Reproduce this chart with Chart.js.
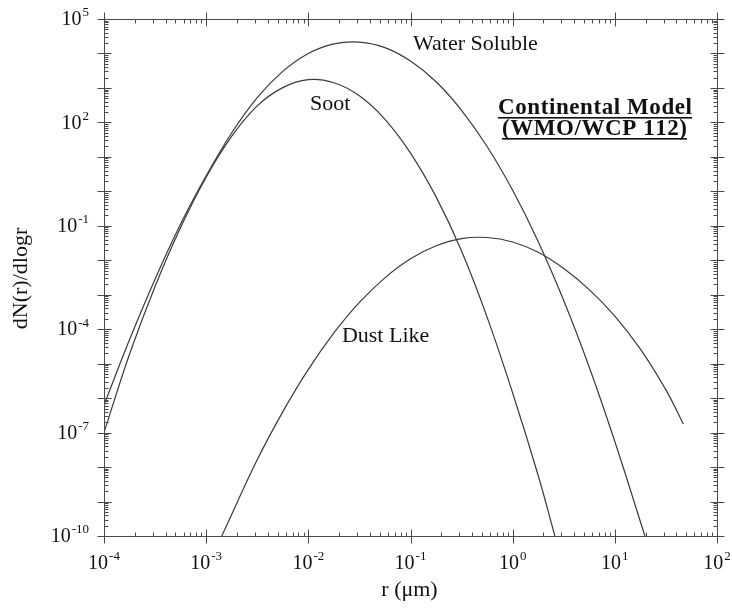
<!DOCTYPE html>
<html>
<head>
<meta charset="utf-8">
<script src="https://cdn.jsdelivr.net/npm/chart.js@4/dist/chart.umd.min.js"></script>
<style>
html,body{margin:0;padding:0;background:#fff;}
#wrap{width:732px;height:608px;position:relative;}
</style>
</head>
<body>
<div id="wrap"><canvas id="c" width="732" height="608"></canvas></div>
<script>
// ---------- DATA ----------
const waterSolubleR = [1.0e-4, 1.78e-4, 3.16e-4, 5.62e-4, 1.0e-3, 1.78e-3, 3.16e-3, 5.62e-3, 1.0e-2, 1.78e-2, 3.16e-2, 5.62e-2, 0.100, 0.178, 0.316, 0.562, 1.00, 1.78, 3.16, 5.62, 10.0, 19.7];
const waterSolubleN = [6.3e-7, 5.0e-5, 2.82e-3, 0.112, 2.82, 50.1, 525, 3020, 1.0e4, 1.9e4, 2.14e4, 1.48e4, 6030, 1510, 224, 20.0, 1.07, 3.47e-2, 6.8e-4, 7.9e-6, 5.5e-8, 1.0e-10];

const sootR = [1.0e-4, 1.78e-4, 3.16e-4, 5.62e-4, 1.0e-3, 1.78e-3, 3.16e-3, 5.62e-3, 1.0e-2, 1.78e-2, 3.16e-2, 5.62e-2, 0.100, 0.178, 0.316, 0.562, 1.00, 1.78, 2.59];
const sootN = [1.0e-7, 1.91e-5, 1.74e-3, 8.9e-2, 2.57, 39.8, 302, 1020, 1740, 1410, 589, 123, 12.9, 0.69, 1.86e-2, 2.24e-4, 1.41e-6, 5.6e-9, 1.0e-10];

const dustLikeR = [1.42e-3, 3.16e-3, 5.62e-3, 1.0e-2, 1.78e-2, 3.16e-2, 5.62e-2, 0.100, 0.178, 0.316, 0.562, 1.00, 1.78, 3.16, 5.62, 10.0, 17.8, 31.6, 46.8];
const dustLikeN = [1.0e-10, 1.62e-8, 4.0e-7, 6.8e-6, 7.8e-5, 6.0e-4, 3.09e-3, 1.10e-2, 2.63e-2, 4.27e-2, 4.57e-2, 3.39e-2, 1.70e-2, 5.75e-3, 1.41e-3, 2.40e-4, 2.63e-5, 1.74e-6, 1.78e-7];

const seriesNames = ["Water Soluble", "Soot", "Dust Like"];

const xTickValues = [1e-4, 1e-3, 1e-2, 1e-1, 1e0, 1e1, 1e2];
const xTickExponents = ["-4", "-3", "-2", "-1", "0", "1", "2"];
const yTickValues = [1e5, 1e2, 1e-1, 1e-4, 1e-7, 1e-10];
const yTickExponents = ["5", "2", "-1", "-4", "-7", "-10"];

const xAxisTitle = "r (\u03BCm)";
const yAxisTitle = "dN(r)/dlogr";
const modelTitle = ["Continental Model", "(WMO/WCP 112)"];

// ---------- STYLE / LAYOUT ----------
const SERIF = '"Liberation Serif", "Times New Roman", "DejaVu Serif", serif';
const LINE_COLOR = '#3a3a3a';
const AXIS_COLOR = '#4a4a4a';
const TEXT_COLOR = '#111';

// curve label anchors (data coordinates), kept apart from the data
const curveLabelPos = [
  {r: 0.106, n: 1.8e4},   // Water Soluble
  {r: 0.0104, n: 340},    // Soot
  {r: 0.0213, n: 6.3e-5}  // Dust Like
];

function pairs(xs, ys){ return xs.map((x,i)=>({x:x, y:ys[i]})); }

const frameAndLabels = {
  id: 'frameAndLabels',
  afterDraw(chart){
    const ctx = chart.ctx;
    const a = chart.chartArea;
    const xs = chart.scales.x, ys = chart.scales.y;
    ctx.save();
    ctx.strokeStyle = AXIS_COLOR;
    ctx.lineWidth = 1;
    ctx.beginPath();
    ctx.rect(Math.round(a.left)+0.5, Math.round(a.top)+0.5, Math.round(a.right-a.left), Math.round(a.bottom-a.top));
    ctx.stroke();

    const L = Math.round(a.left)+0.5, R = Math.round(a.right)+0.5, T = Math.round(a.top)+0.5, B = Math.round(a.bottom)+0.5;
    ctx.beginPath();
    const xmin = Math.round(Math.log10(xs.min)), xmax = Math.round(Math.log10(xs.max));
    for (let e = xmin; e <= xmax; e++) {
      const p = Math.round(xs.getPixelForValue(Math.pow(10, e))) + 0.5;
      ctx.moveTo(p, B-7); ctx.lineTo(p, B+7);
      ctx.moveTo(p, T-7); ctx.lineTo(p, T+7);
      if (e < xmax) {
        for (let m = 2; m <= 9; m++) {
          const q = Math.round(xs.getPixelForValue(m*Math.pow(10, e))) + 0.5;
          ctx.moveTo(q, B-4); ctx.lineTo(q, B);
          ctx.moveTo(q, T); ctx.lineTo(q, T+4);
        }
      }
    }
    const ymin = Math.round(Math.log10(ys.min)), ymax = Math.round(Math.log10(ys.max));
    for (let e = ymin; e <= ymax; e++) {
      const p = Math.round(ys.getPixelForValue(Math.pow(10, e))) + 0.5;
      ctx.moveTo(L-7, p); ctx.lineTo(L+7, p);
      ctx.moveTo(R-7, p); ctx.lineTo(R+7, p);
      if (e < ymax) {
        for (let m = 2; m <= 9; m++) {
          const q = Math.round(ys.getPixelForValue(m*Math.pow(10, e))) + 0.5;
          ctx.moveTo(L, q); ctx.lineTo(L+4, q);
          ctx.moveTo(R-4, q); ctx.lineTo(R, q);
        }
      }
    }
    ctx.stroke();

    ctx.fillStyle = TEXT_COLOR;
    ctx.textBaseline = 'middle';
    ctx.textAlign = 'left';
    const baseFont = '20px ' + SERIF, supFont = '13px ' + SERIF;
    function measure(exp){
      ctx.font = baseFont; const bw = ctx.measureText('10').width;
      ctx.font = supFont; const ew = ctx.measureText(exp).width;
      return {bw, ew, w: bw + 1 + ew};
    }
    function drawPow(x0, yBase, exp){
      const m = measure(exp);
      ctx.font = baseFont; ctx.fillText('10', x0, yBase);
      ctx.font = supFont; ctx.fillText(exp, x0 + m.bw + 1, yBase - 7);
    }
    yTickValues.forEach((v, i) => {
      const p = ys.getPixelForValue(v);
      const m = measure(yTickExponents[i]);
      drawPow(a.left - 15 - m.w, p + 1, yTickExponents[i]);
    });
    xTickValues.forEach((v, i) => {
      const p = xs.getPixelForValue(v);
      const m = measure(xTickExponents[i]);
      drawPow(p - m.w/2, a.bottom + 28, xTickExponents[i]);
    });

    ctx.font = '22px ' + SERIF;
    ctx.textAlign = 'center';
    ctx.fillText(xAxisTitle, (a.left + a.right)/2 - 1, a.bottom + 54);
    ctx.save();
    ctx.translate(21, (a.top + a.bottom)/2 + 1);
    ctx.rotate(-Math.PI/2);
    ctx.fillText(yAxisTitle, 0, 0);
    ctx.restore();

    ctx.textAlign = 'left';
    ctx.font = '22px ' + SERIF;
    seriesNames.forEach((name, i) => {
      const pos = curveLabelPos[i];
      ctx.fillText(name, xs.getPixelForValue(pos.r), ys.getPixelForValue(pos.n));
    });

    ctx.font = 'bold 23px ' + SERIF;
    const boxes = [{x0: a.left + 394, x1: a.left + 588, y: a.top + 89}, {x0: a.left + 398, x1: a.left + 583, y: a.top + 110}];
    modelTitle.forEach((txt, k) => {
      const b = boxes[k];
      const chars = Array.from(txt);
      const widths = chars.map(c => ctx.measureText(c).width);
      const total = widths.reduce((s, w) => s + w, 0);
      const gap = (b.x1 - b.x0 - total) / (chars.length - 1);
      let x = b.x0;
      chars.forEach((c, j) => { ctx.fillText(c, x, b.y); x += widths[j] + gap; });
      ctx.fillRect(b.x0, b.y + 9, b.x1 - b.x0, 1.6);
    });
    ctx.restore();
  }
};

const ds = (label, xs, ys) => ({
  label: label,
  data: pairs(xs, ys),
  showLine: true,
  borderColor: LINE_COLOR,
  borderWidth: 1.2,
  pointRadius: 0,
  pointHoverRadius: 0,
  fill: false,
  tension: 0.4
});

new Chart(document.getElementById('c'), {
  type: 'scatter',
  data: {
    datasets: [
      ds(seriesNames[0], waterSolubleR, waterSolubleN),
      ds(seriesNames[1], sootR, sootN),
      ds(seriesNames[2], dustLikeR, dustLikeN)
    ]
  },
  options: {
    responsive: false,
    animation: false,
    devicePixelRatio: 1,
    layout: { padding: { left: 104, right: 15, top: 19, bottom: 72 } },
    plugins: { legend: { display: false }, tooltip: { enabled: false } },
    scales: {
      x: { type: 'logarithmic', min: 1e-4, max: 1e2, display: false },
      y: { type: 'logarithmic', min: 1e-10, max: 1e5, display: false }
    }
  },
  plugins: [frameAndLabels]
});
</script>
</body>
</html>
